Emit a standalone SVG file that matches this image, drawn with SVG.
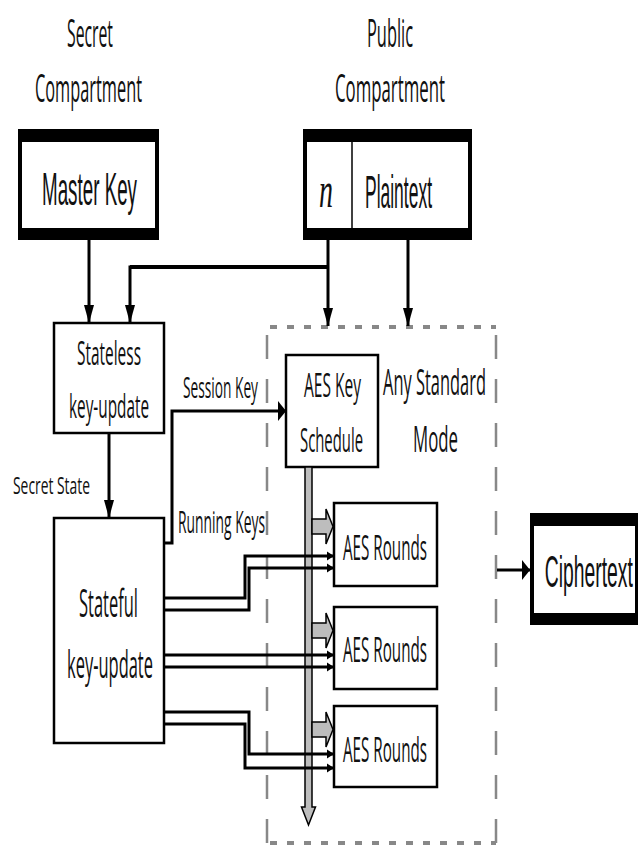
<svg xmlns="http://www.w3.org/2000/svg" width="638" height="848" viewBox="0 0 638 848">
<style>
.c{font-family:"Open Sans","Noto Sans",sans-serif;fill:#111;text-anchor:middle;}
.a{font-family:"Liberation Sans",Arial,sans-serif;fill:#111;text-anchor:middle;}
.ln{fill:none;stroke:#000;stroke-width:3;}
.box{fill:#fff;stroke:#000;stroke-width:2.5;}
.dash{fill:none;stroke:#888;}
.gray{fill:#bdbdbd;stroke:#000;stroke-width:1.5;}
</style>
<defs>
<marker id="ad" markerUnits="userSpaceOnUse" markerWidth="20" markerHeight="20" refX="18" refY="6" orient="auto"><path d="M0,1 L18,6 L0,11 Z" fill="#000"/></marker>
<marker id="ar" markerUnits="userSpaceOnUse" markerWidth="10" markerHeight="24" refX="8" refY="11" orient="auto"><path d="M0,1 L8,11 L0,21 Z" fill="#000"/></marker>
<marker id="as" markerUnits="userSpaceOnUse" markerWidth="10" markerHeight="12" refX="7" refY="5" orient="auto"><path d="M0,0.5 L7,5 L0,9.5 Z" fill="#000"/></marker>
</defs>

<g id="mode-box">
<line class="dash" x1="267" y1="327" x2="496" y2="327" stroke-width="4" stroke-dasharray="7 10" stroke-dashoffset="-3"/>
<line class="dash" x1="267" y1="843" x2="496" y2="843" stroke-width="4" stroke-dasharray="7 10" stroke-dashoffset="-3"/>
<line class="dash" x1="267" y1="335" x2="267" y2="843" stroke-width="2.5" stroke-dasharray="24 20"/>
<line class="dash" x1="496" y1="335" x2="496" y2="843" stroke-width="2.5" stroke-dasharray="24 20"/>
</g>

<g id="labels" transform="scale(0.5,1)">
<text class="c" x="180" y="47" font-size="38" textLength="92" lengthAdjust="spacingAndGlyphs">Secret</text>
<text class="c" x="177" y="102" font-size="38" textLength="214" lengthAdjust="spacingAndGlyphs">Compartment</text>
<text class="c" x="780" y="47" font-size="38" textLength="92" lengthAdjust="spacingAndGlyphs">Public</text>
<text class="c" x="780" y="102" font-size="38" textLength="220" lengthAdjust="spacingAndGlyphs">Compartment</text>
<text class="c" x="103" y="494" font-size="24" textLength="154" lengthAdjust="spacingAndGlyphs">Secret State</text>
<text class="c" x="441" y="398" font-size="29" textLength="150" lengthAdjust="spacingAndGlyphs">Session Key</text>
<text class="c" x="443" y="533" font-size="31" textLength="174" lengthAdjust="spacingAndGlyphs">Running Keys</text>
<text class="c" x="869" y="395" font-size="37" textLength="206" lengthAdjust="spacingAndGlyphs">Any Standard</text>
<text class="c" x="871" y="452" font-size="37" textLength="90" lengthAdjust="spacingAndGlyphs">Mode</text>
</g>

<g id="master-key">
<rect x="18" y="129" width="141" height="111" fill="#000"/>
<rect x="22" y="142" width="133" height="86" fill="#fff"/>
<text class="a" transform="scale(0.5,1)" x="179" y="205" font-size="46" textLength="190" lengthAdjust="spacingAndGlyphs">Master Key</text>
</g>

<g id="plaintext">
<rect x="303" y="129" width="169" height="111" fill="#000"/>
<rect x="307" y="142" width="161" height="86" fill="#fff"/>
<line x1="352" y1="142" x2="352" y2="228" stroke="#000" stroke-width="1.5"/>
<text transform="scale(0.5,1)" x="652" y="207" font-family="Liberation Serif,serif" font-style="italic" font-size="50" text-anchor="middle" textLength="28" lengthAdjust="spacingAndGlyphs" fill="#111">n</text>
<text class="a" transform="scale(0.5,1)" x="797" y="208" font-size="46" textLength="134" lengthAdjust="spacingAndGlyphs">Plaintext</text>
</g>

<g id="ciphertext">
<rect x="530" y="513" width="108" height="112" fill="#000"/>
<rect x="534" y="526" width="101" height="87" fill="#fff"/>
<text class="a" transform="scale(0.4,1)" x="1472" y="587" font-size="45" textLength="220" lengthAdjust="spacingAndGlyphs">Ciphertext</text>
</g>

<g id="stateless">
<rect class="box" x="54" y="323" width="110" height="110"/>
<text class="c" transform="scale(0.5,1)" x="218" y="365" font-size="32" textLength="128" lengthAdjust="spacingAndGlyphs">Stateless</text>
<text class="c" transform="scale(0.5,1)" x="218" y="418" font-size="32" textLength="160" lengthAdjust="spacingAndGlyphs">key-update</text>
</g>

<g id="stateful">
<rect class="box" x="54" y="518" width="110" height="225"/>
<text class="c" transform="scale(0.5,1)" x="217" y="617" font-size="39" textLength="118" lengthAdjust="spacingAndGlyphs">Stateful</text>
<text class="c" transform="scale(0.5,1)" x="220" y="678" font-size="39" textLength="172" lengthAdjust="spacingAndGlyphs">key-update</text>
</g>

<g id="key-schedule">
<rect class="box" x="286" y="355" width="92" height="112"/>
<text class="c" transform="scale(0.5,1)" x="665" y="397" font-size="32" textLength="114" lengthAdjust="spacingAndGlyphs">AES Key</text>
<text class="c" transform="scale(0.5,1)" x="663" y="452" font-size="32" textLength="126" lengthAdjust="spacingAndGlyphs">Schedule</text>
</g>

<g id="rounds-1">
<rect class="box" x="334" y="503" width="103" height="83"/>
<text class="c" transform="scale(0.5,1)" x="770" y="560" font-size="34" textLength="168" lengthAdjust="spacingAndGlyphs">AES Rounds</text>
</g>
<g id="rounds-2">
<rect class="box" x="334" y="607" width="103" height="82"/>
<text class="c" transform="scale(0.5,1)" x="770" y="662" font-size="34" textLength="168" lengthAdjust="spacingAndGlyphs">AES Rounds</text>
</g>
<g id="rounds-3">
<rect class="box" x="334" y="706" width="103" height="81"/>
<text class="c" transform="scale(0.5,1)" x="770" y="762" font-size="34" textLength="168" lengthAdjust="spacingAndGlyphs">AES Rounds</text>
</g>

<g id="connectors">
<path class="ln" d="M89,240 V323" stroke-width="2.5" marker-end="url(#ad)"/>
<path class="ln" d="M328,267 H130 V323" stroke-width="2.5" marker-end="url(#ad)"/>
<line x1="130" y1="267" x2="328" y2="267" stroke="#000" stroke-width="4"/>
<path class="ln" d="M328,240 V326" stroke-width="2.5" marker-end="url(#ad)"/>
<path class="ln" d="M408,240 V326" stroke-width="2.5" marker-end="url(#ad)"/>
<path class="ln" d="M109,433 V518" stroke-width="2.5" marker-end="url(#ad)"/>
<path class="ln" d="M164,543 H172 V411 H286" marker-end="url(#ar)"/>
<path class="ln" d="M497,570 H530" stroke-width="4" marker-end="url(#ar)"/>

<path class="gray" d="M305,467 V807 H301.5 L308.5,825 L315.5,807 H312 V467 Z"/>
<path class="gray" d="M312,519 H326 V509 L333,526.5 L326,544 V534 H312 Z"/>
<path class="gray" d="M312,623 H326 V613 L333,630.5 L326,648 V638 H312 Z"/>
<path class="gray" d="M312,722 H326 V712 L333,729.5 L326,747 V737 H312 Z"/>

<path class="ln" d="M164,598 H245 V556 H334" marker-end="url(#as)"/>
<path class="ln" d="M164,610 H249 V568 H334" marker-end="url(#as)"/>
<path class="ln" d="M164,655 H334" marker-end="url(#as)"/>
<path class="ln" d="M164,667 H334" marker-end="url(#as)"/>
<path class="ln" d="M164,712 H249 V754 H334" marker-end="url(#as)"/>
<path class="ln" d="M164,724 H245 V768 H334" marker-end="url(#as)"/>
</g>
</svg>
